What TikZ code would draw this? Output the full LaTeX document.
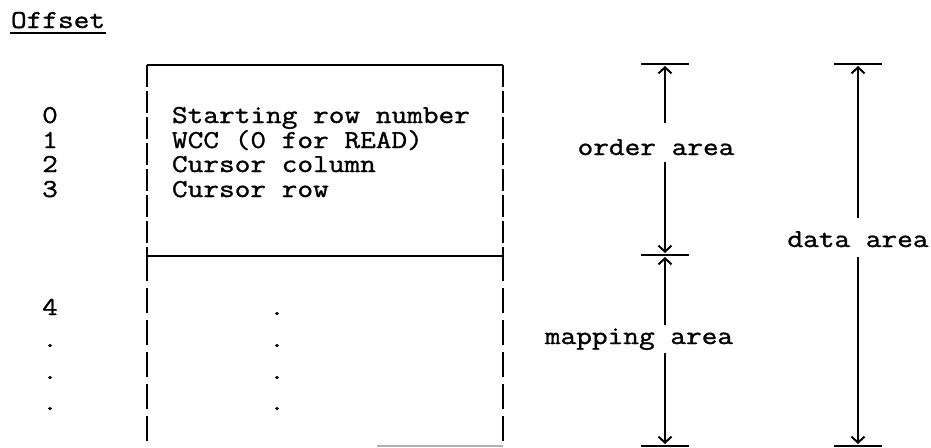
\documentclass[tikz,border=0pt]{standalone}
\usepackage{fontspec}
\newfontfamily\typewriter{Latin Modern Mono}[FakeStretch=1.18, FakeBold=1.2]
\usetikzlibrary{arrows.meta}

\begin{document}
\begin{tikzpicture}[x=1pt, y=-1pt, line width=2pt,
    txt/.style={font=\typewriter\fontsize{25.8}{24.6}\selectfont, inner sep=0pt, anchor=base},
    side/.style={dash pattern=on 22pt off 4pt},
    tick/.style={line width=1.8pt},
    arr/.style={-{Straight Barb[length=6pt,width=13pt]}, shorten >=2pt}]
    \useasboundingbox (0,0) rectangle (931,447);

    % Heading
    \node[txt, anchor=base west] (offset) at (10,28) {Offset};
    \draw[line width=1.5pt] ([yshift=-5pt]offset.base west) -- ([yshift=-5pt]offset.base east);

    % Offsets
    \foreach \y/\n in {123/0, 148/1, 172/2, 197/3, 315/4} {
        \node[txt] (off\n) at (50,\y) {\n};
    }
    \foreach \y [count=\i] in {347, 379, 410} {
        \node[txt] (offdot\i) at (50,\y) {.};
    }

    % Order area box
    \draw (147,65) -- (503,65);
    \draw[side] (147,65) -- (147,256);
    \draw[side] (503,65) -- (503,256);
    \foreach \y/\t [count=\i] in {123/Starting row number, 148/WCC (0 for READ), 172/Cursor column, 197/Cursor row} {
        \node[txt, anchor=base west] (row\i) at (171,\y) {\t};
    }

    % Mapping area box
    \draw (147,256) -- (503,256);
    \draw[side, dash pattern=on 25pt off 7pt] (147,256) -- (147,447);
    \draw[side, dash pattern=on 25pt off 7pt] (503,256) -- (503,447);
    \draw[gray!60, line width=1.5pt] (377,446) -- (503,446);
    \foreach \y [count=\i] in {315, 347, 379, 410} {
        \node[txt] (mapdot\i) at (277,\y) {.};
    }

    % Tick marks
    \coordinate (otop) at (665,64);
    \coordinate (omid) at (665,255);
    \coordinate (obot) at (665,446);
    \coordinate (dtop) at (858,64);
    \coordinate (dbot) at (858,446);
    \foreach \c in {otop, omid, obot, dtop, dbot} {
        \draw[tick] ([xshift=-24pt]\c) -- ([xshift=24pt]\c);
    }

    % Labels
    \node[txt] (order) at (656,155) {order area};
    \node[txt] (mapping) at (639,344) {mapping area};
    \node[txt] (data) at (858,247) {data area};

    % Arrows
    \coordinate (ordhi) at (665,123);
    \coordinate (ordlo) at (665,162);
    \coordinate (maphi) at (665,325);
    \coordinate (maplo) at (665,353);
    \coordinate (dathi) at (858,218);
    \coordinate (datlo) at (858,257);
    \draw[arr] (ordhi) -- (otop);
    \draw[arr] (ordlo) -- (omid);
    \draw[arr] (maphi) -- (omid);
    \draw[arr] (maplo) -- (obot);
    \draw[arr] (dathi) -- (dtop);
    \draw[arr] (datlo) -- (dbot);
\end{tikzpicture}
\end{document}
